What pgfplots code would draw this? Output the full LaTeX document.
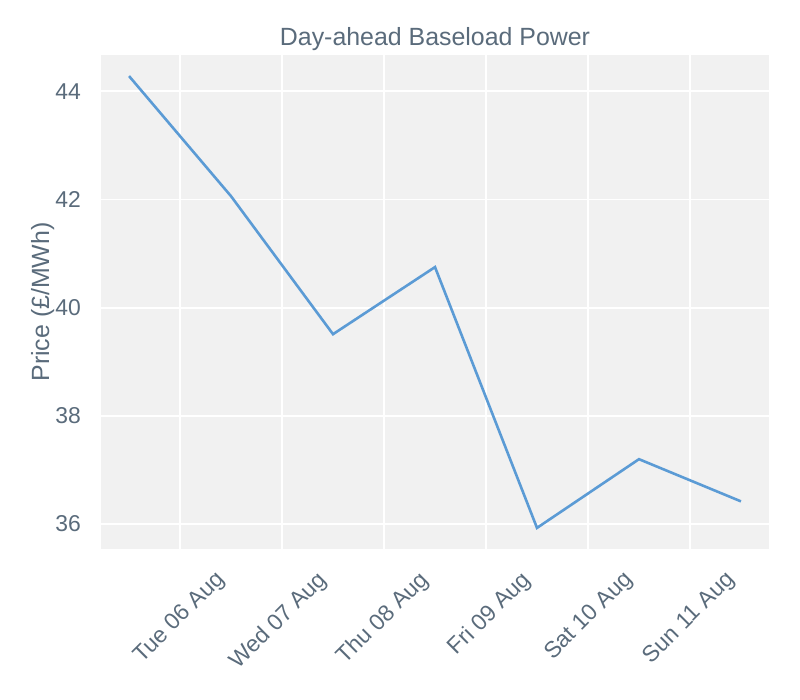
\documentclass[border=0pt]{standalone}
\usepackage{fontspec}
\setmainfont{Liberation Sans}
\usepackage{pgfplots}
\pgfplotsset{compat=1.18}
\definecolor{txt}{HTML}{5A6B7B}
\definecolor{bg}{HTML}{F1F1F1}
\definecolor{ln}{HTML}{5B9BD5}
\begin{document}
\begin{tikzpicture}[x=1bp,y=1bp]
\useasboundingbox (0,0) rectangle (800,700);
\begin{axis}[
  at={(101bp,151bp)}, anchor=south west,
  scale only axis, width=668bp, height=494bp,
  xmin=5.225, xmax=11.775, ymin=35.54, ymax=44.67,
  axis background/.style={fill=bg},
  axis line style={draw=none},
  major tick length=0pt,
  grid=major, grid style={white, line width=1.8bp},
  xtick={6,7,8,9,10,11},
  xticklabels={Tue 06 Aug,Wed 07 Aug,Thu 08 Aug,Fri 09 Aug,Sat 10 Aug,Sun 11 Aug},
  xticklabel style={xshift=34bp, yshift=-20bp, rotate=45, anchor=north east, inner sep=0pt, font=\fontsize{23}{27}\selectfont, text=txt},
  ytick={36,38,40,42,44},
  yticklabel style={xshift=-20bp, anchor=east, inner sep=0pt, font=\fontsize{23}{27}\selectfont, text=txt},
  /pgf/number format/assume math mode=true,
  title={Day-ahead Baseload Power},
  title style={at={([yshift=3.5bp]axis description cs:0.5,1)}, anchor=base, font=\fontsize{25}{30}\selectfont, text=txt},
  ylabel={Price (£/MWh)},
  ylabel style={at={([xshift=-52bp]axis description cs:0,0.5)}, anchor=base, font=\fontsize{25}{30}\selectfont, text=txt},
]
\addplot[ln, line width=2.6bp] coordinates {
(5.5,44.28) (6.5,42.06) (7.5,39.51) (8.5,40.75) (9.5,35.93) (10.5,37.20) (11.5,36.42)
};
\end{axis}
\end{tikzpicture}
\end{document}
